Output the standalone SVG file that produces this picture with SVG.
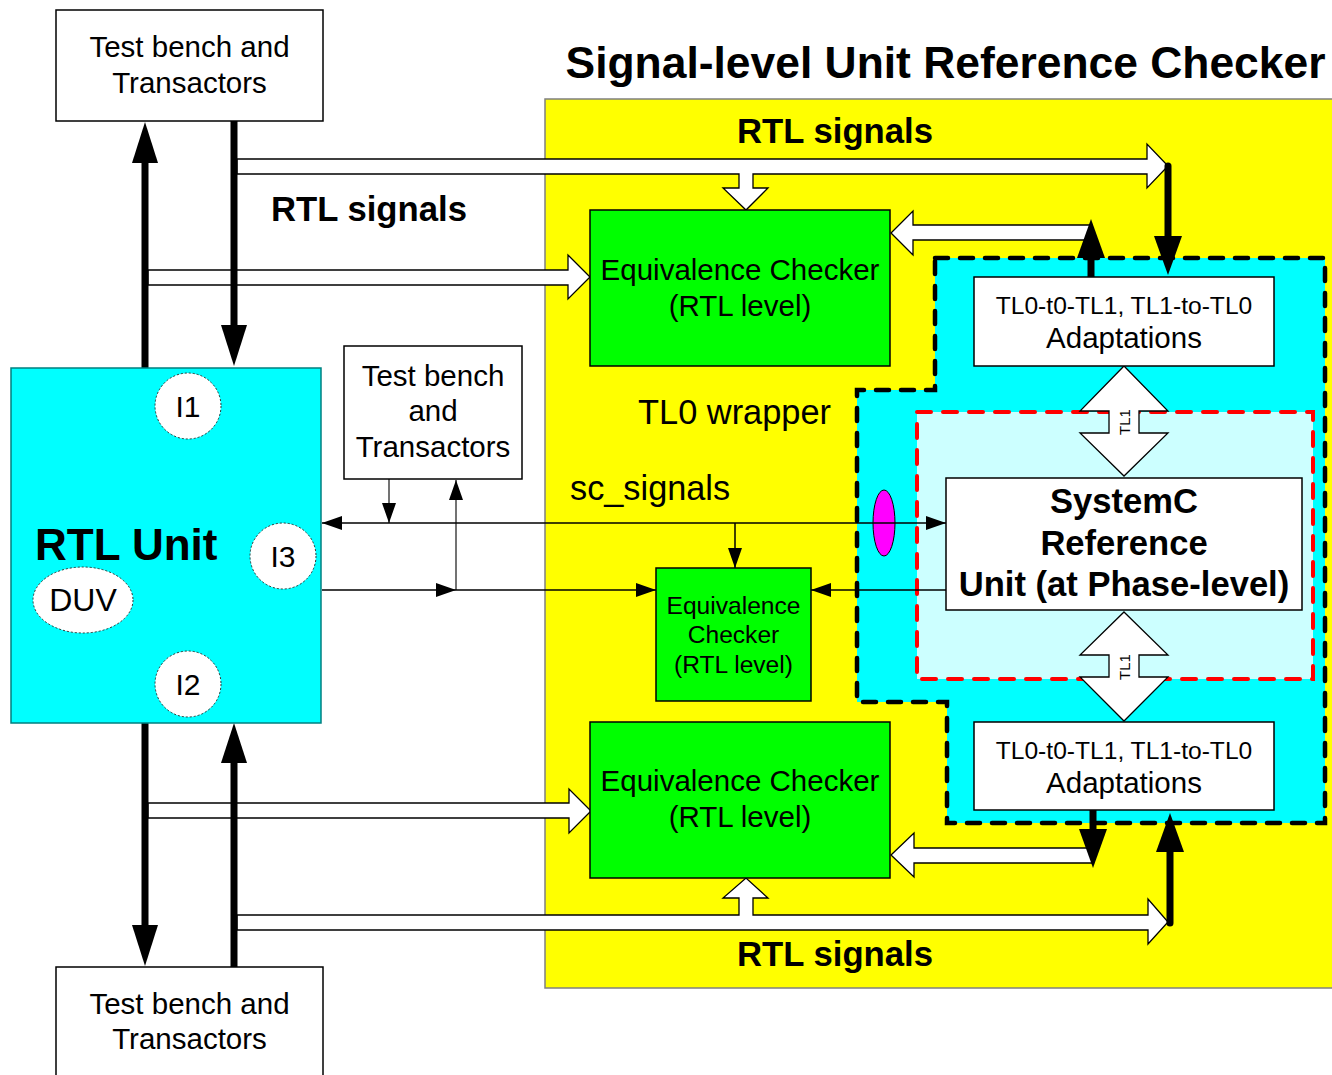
<svg xmlns="http://www.w3.org/2000/svg" width="1332" height="1075" viewBox="0 0 1332 1075">
<style>
text{font-family:"Liberation Sans",Arial,sans-serif;fill:#000}
.box{fill:#fff;stroke:#000;stroke-width:1.5}
.green{fill:#00ff00;stroke:#000;stroke-width:1.5}
.hollow{fill:#fff;stroke:#000;stroke-width:1.3;stroke-linejoin:miter}
.thick{stroke:#000;stroke-width:7;stroke-linecap:round;fill:none}
.head{fill:#000}
.thin{stroke:#000;stroke-width:1.5;fill:none}
.thing{stroke:#444;stroke-width:1.5;fill:none}
.port{fill:#fff;stroke:#333;stroke-width:1;stroke-dasharray:2 2}
.t28{font-size:29.5px}
.t24{font-size:24.6px}
.mid{text-anchor:middle}
.b{font-weight:bold}
</style>
<defs>
<marker id="ah" markerUnits="userSpaceOnUse" markerWidth="20" markerHeight="14" refX="20" refY="7" orient="auto">
<path d="M0,0 L20,7 L0,14 z" fill="#000"/>
</marker>
</defs>

<!-- background regions -->
<g id="checker-area">
<rect x="545" y="99" width="800" height="889" fill="#ffff00" stroke="#808080" stroke-width="1.5"/>
<text x="945.5" y="78" class="b mid" style="font-size:44.4px">Signal-level Unit Reference Checker</text>
<text x="835" y="143" class="b mid" style="font-size:34.7px">RTL signals</text>
<text x="835" y="966" class="b mid" style="font-size:34.7px">RTL signals</text>
</g>

<g id="tl0-wrapper">
<path d="M935,258 L1325,258 L1325,823 L947,823 L947,702 L857,702 L857,390 L935,390 Z" fill="#00ffff"/>
<rect x="917" y="412" width="396" height="267" fill="#ccffff"/>
<path d="M935,258 L1325,258 L1325,823 L947,823 L947,702 L857,702 L857,390 L935,390 Z" fill="none" stroke="#000" stroke-width="4.5" stroke-dasharray="13 12" stroke-linecap="round"/>
<rect x="917" y="412" width="396" height="267" fill="none" stroke="#ff0000" stroke-width="4" stroke-dasharray="14 12" stroke-linecap="round"/>
<text x="638" y="424" style="font-size:34.4px">TL0 wrapper</text>
<text x="570" y="500" style="font-size:34.3px">sc_signals</text>
</g>

<!-- connectors -->
<g id="connectors">
<!-- hollow arrows -->
<path class="hollow" d="M237,159 L1147,159 L1147,144 L1168,166 L1147,188 L1147,174 L753,174 L753,188 L768,188 L746,210 L723,188 L739,188 L739,174 L237,174 Z"/>
<path class="hollow" d="M148,270 L568,270 L568,255 L590,277 L568,299 L568,285 L148,285 Z"/>
<path class="hollow" d="M1091,225 L913,225 L913,211 L891,233 L913,255 L913,240 L1091,240 Z"/>
<path class="hollow" d="M1093,848 L914,848 L914,833 L891,855 L914,877 L914,863 L1093,863 Z"/>
<path class="hollow" d="M148,803 L569,803 L569,789 L591,811 L569,833 L569,818 L148,818 Z"/>
<path class="hollow" d="M237,915 L739,915 L739,898 L723,898 L746,878 L768,898 L753,898 L753,915 L1148,915 L1148,899 L1168,922 L1148,944 L1148,930 L237,930 Z"/>
<!-- TL1 double arrows -->
<path class="hollow" d="M1124,366 L1168,411 L1139,411 L1139,433 L1168,433 L1124,476 L1080,433 L1109,433 L1109,411 L1080,411 Z"/>
<text transform="translate(1124,422) rotate(-90)" x="0" y="5.5" class="mid" style="font-size:15px">TL1</text>
<path class="hollow" d="M1124,612 L1168,655 L1139,655 L1139,677 L1168,677 L1124,721 L1080,677 L1109,677 L1109,655 L1080,655 Z"/>
<text transform="translate(1124,667) rotate(-90)" x="0" y="5.5" class="mid" style="font-size:15px">TL1</text>

<!-- thick arrows left -->
<line class="thick" x1="145" y1="160" x2="145" y2="368"/>
<polygon class="head" points="145,122 158,163 132,163"/>
<line class="thick" x1="234" y1="121" x2="234" y2="328"/>
<polygon class="head" points="234,366 221,325 247,325"/>
<line class="thick" x1="145" y1="723" x2="145" y2="928"/>
<polygon class="head" points="145,966 132,925 158,925"/>
<line class="thick" x1="234" y1="760" x2="234" y2="967"/>
<polygon class="head" points="234,723 247,763 221,763"/>
<!-- thick arrows right -->
<line class="thick" x1="1091" y1="277" x2="1091" y2="255"/>
<polygon class="head" points="1091,219 1105,258 1077,258"/>
<line class="thick" x1="1168" y1="166" x2="1168" y2="240"/>
<polygon class="head" points="1168,275 1154,236 1182,236"/>
<line class="thick" x1="1093" y1="810" x2="1093" y2="832"/>
<polygon class="head" points="1093,868 1079,829 1107,829"/>
<line class="thick" x1="1170" y1="923" x2="1170" y2="848"/>
<polygon class="head" points="1170,813 1184,852 1156,852"/>

<!-- pink ellipse -->
<ellipse cx="884" cy="523" rx="11" ry="33" fill="#ff00ff" stroke="#000" stroke-width="1"/>

<!-- thin connectors -->
<line class="thing" x1="389" y1="479" x2="389" y2="523" marker-end="url(#ah)"/>
<line class="thing" x1="456" y1="590" x2="456" y2="480" marker-end="url(#ah)"/>
<line class="thin" x1="735" y1="523" x2="322" y2="523" marker-end="url(#ah)"/>
<line class="thin" x1="735" y1="523" x2="946" y2="523" marker-end="url(#ah)"/>
<line class="thin" x1="735" y1="523" x2="735" y2="568" marker-end="url(#ah)"/>
<line class="thin" x1="322" y1="590" x2="456" y2="590" marker-end="url(#ah)"/>
<line class="thin" x1="456" y1="590" x2="656" y2="590" marker-end="url(#ah)"/>
<line class="thin" x1="946" y1="590" x2="811" y2="590" marker-end="url(#ah)"/>
</g>

<!-- nodes -->
<g id="tb-top">
<rect class="box" x="56" y="10" width="267" height="111"/>
<text x="189.5" y="57" class="t28 mid">Test bench and</text>
<text x="189.5" y="93" class="t28 mid">Transactors</text>
</g>
<g id="tb-bottom">
<rect class="box" x="56" y="967" width="267" height="120"/>
<text x="189.5" y="1014" class="t28 mid">Test bench and</text>
<text x="189.5" y="1049" class="t28 mid">Transactors</text>
</g>
<g id="tb-mid">
<rect class="box" x="344" y="346" width="178" height="133"/>
<text x="433" y="386" class="t28 mid">Test bench</text>
<text x="433" y="421" class="t28 mid">and</text>
<text x="433" y="457" class="t28 mid">Transactors</text>
</g>
<g id="rtl-unit">
<rect x="11" y="368" width="310" height="355" fill="#00ffff" stroke="#008080" stroke-width="1.5"/>
<text x="35" y="560" class="b" style="font-size:44px">RTL Unit</text>
<ellipse class="port" cx="188" cy="406" rx="33" ry="33"/>
<text x="188" y="417" class="mid" style="font-size:30px">I1</text>
<ellipse class="port" cx="283" cy="556" rx="33" ry="33"/>
<text x="283" y="567" class="mid" style="font-size:30px">I3</text>
<ellipse class="port" cx="83" cy="600" rx="50" ry="33"/>
<text x="83" y="611" class="mid" style="font-size:32px">DUV</text>
<ellipse class="port" cx="188" cy="684" rx="33" ry="33"/>
<text x="188" y="695" class="mid" style="font-size:30px">I2</text>
</g>
<g id="rtl-signals-label">
<text x="271" y="221" class="b" style="font-size:34.7px">RTL signals</text>
</g>
<g id="ec-top">
<rect class="green" x="590" y="210" width="300" height="156"/>
<text x="740" y="280" class="t28 mid">Equivalence Checker</text>
<text x="740" y="316" class="t28 mid">(RTL level)</text>
</g>
<g id="ec-mid">
<rect class="green" x="656" y="568" width="155" height="133"/>
<text x="733.5" y="614" class="t24 mid">Equivalence</text>
<text x="733.5" y="643" class="t24 mid">Checker</text>
<text x="733.5" y="673" class="t24 mid">(RTL level)</text>
</g>
<g id="ec-bottom">
<rect class="green" x="590" y="722" width="300" height="156"/>
<text x="740" y="791" class="t28 mid">Equivalence Checker</text>
<text x="740" y="827" class="t28 mid">(RTL level)</text>
</g>
<g id="adapt-top">
<rect class="box" x="974" y="277" width="300" height="89"/>
<text x="1124" y="314" class="t24 mid">TL0-t0-TL1, TL1-to-TL0</text>
<text x="1124" y="348" class="t28 mid">Adaptations</text>
</g>
<g id="adapt-bottom">
<rect class="box" x="974" y="722" width="300" height="88"/>
<text x="1124" y="759" class="t24 mid">TL0-t0-TL1, TL1-to-TL0</text>
<text x="1124" y="793" class="t28 mid">Adaptations</text>
</g>
<g id="systemc">
<rect class="box" x="946" y="478" width="356" height="132"/>
<text x="1124" y="513" class="b mid" style="font-size:34.6px">SystemC</text>
<text x="1124" y="555" class="b mid" style="font-size:34.6px">Reference</text>
<text x="1124" y="596" class="b mid" style="font-size:34.6px">Unit (at Phase-level)</text>
</g>
</svg>
